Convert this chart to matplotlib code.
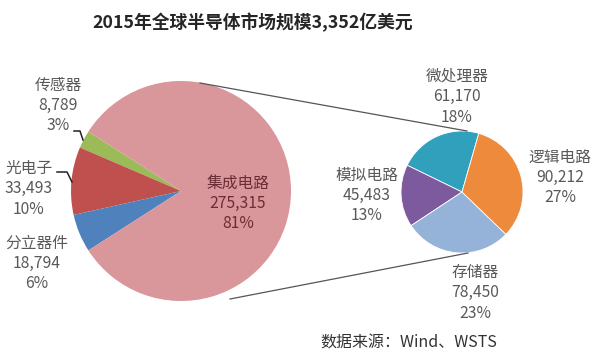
import matplotlib
matplotlib.use("Agg")
import matplotlib.pyplot as plt

plt.rcParams['font.family'] = ['Noto Sans CJK SC', 'DejaVu Sans']

title = "2015年全球半导体市场规模3,352亿美元"
source = "数据来源：Wind、WSTS"

# big pie: whole market (亿美元 x 100)
big_names = ["传感器", "光电子", "分立器件", "集成电路"]
big_values = [8789, 33493, 18794, 275315]
big_pcts = ["3%", "10%", "6%", "81%"]
big_colors = ["#9BBB59", "#C0504D", "#4F81BD", "#D9969B"]

# small pie: breakdown of 集成电路
ic_names = ["微处理器", "模拟电路", "存储器", "逻辑电路"]
ic_values = [61170, 45483, 78450, 90212]
ic_pcts = ["18%", "13%", "23%", "27%"]
ic_colors = ["#31A0BD", "#7D5A9E", "#95B2D8", "#EE8A3C"]

W, H = 594, 357
fig = plt.figure(figsize=(W / 100, H / 100), dpi=100)
ax = fig.add_axes([0, 0, 1, 1])

big_c, big_r = (181, 166), 110
small_c, small_r = (462, 165), 61

# keep the non-IC slices centred on the left
other = sum(big_values[:3]) / sum(big_values) * 360
ax.pie(big_values, colors=big_colors, center=big_c, radius=big_r,
       startangle=180 - other / 2, frame=True,
       wedgeprops=dict(linewidth=0))
ax.pie(ic_values, colors=ic_colors, center=small_c, radius=small_r,
       startangle=74, frame=True,
       wedgeprops=dict(edgecolor="white", linewidth=0.6))
ax.set_xlim(0, W)
ax.set_ylim(0, H)
ax.set_aspect("equal")
ax.axis("off")

# connector lines between the pies
ax.plot([200, 467], [H - 83, H - 131], color="#555555", lw=0.9)
ax.plot([230, 468], [H - 299, H - 253], color="#555555", lw=0.9)

grey = "#595959"
fs = 11.3


def label(x, y, name, val, pct, color=grey):
    for i, s in enumerate([name, f"{val:,}", pct]):
        ax.text(x, H - (y + 20.5 * i), s, ha="center", va="center",
                fontsize=fs, color=color)


big_pos = [(58, 85), (29, 168), (37, 243), (238, 183)]
for (x, y), n, v, p in zip(big_pos, big_names, big_values, big_pcts):
    label(x, y, n, v, p, "#6B2D35" if n == "集成电路" else grey)

ic_pos = [(457, 76), (367, 175), (475, 272), (560, 157)]
for (x, y), n, v, p in zip(ic_pos, ic_names, ic_values, ic_pcts):
    label(x, y, n, v, p)

# leader lines for the small slices
ax.plot([74, 80, 83], [H - 131, H - 131, H - 140], color="#222222", lw=1.1)
ax.plot([57, 67, 72], [H - 172, H - 172, H - 182], color="#222222", lw=1.1)

ax.text(253, H - 23, title, ha="center", va="center", fontsize=12.8,
        fontweight="bold", color="#262626")
ax.text(409, H - 343, source, ha="center", va="center", fontsize=11.5,
        color="#333333")

fig.savefig("out.png", dpi=100)
